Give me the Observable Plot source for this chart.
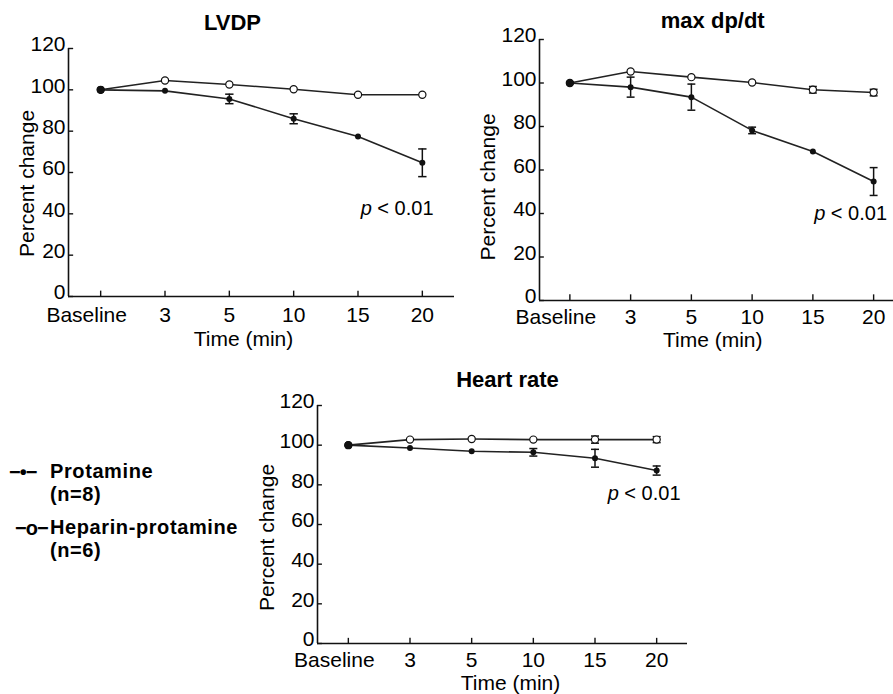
<!DOCTYPE html>
<html><head><meta charset="utf-8">
<script src="https://cdn.jsdelivr.net/npm/d3@7"></script>
<script src="https://cdn.jsdelivr.net/npm/@observablehq/plot@0.6"></script>
<style>
html,body{margin:0;padding:0;background:#fff}
body{width:893px;height:694px;overflow:hidden;position:relative;font-family:"Liberation Sans",Arial,sans-serif;color:#000}
.panel{position:absolute}
.panel svg{max-width:none;overflow:visible}
.leg{position:absolute;font-weight:bold;font-size:20px;letter-spacing:0.6px;white-space:nowrap;line-height:1}
</style></head><body>
<script>
// ---- data ----
const categories = ["Baseline", "3", "5", "10", "15", "20"];
const yTicks = [0, 20, 40, 60, 80, 100, 120];
const seriesNames = ["Protamine", "Heparin-protamine"];

const lvdpProtamine    = [100, 99.5, 95.6, 86.0, 77.4, 64.7];
const lvdpProtamineErr = [0, 0, 2.3, 2.4, 0, 6.7];
const lvdpHeparin      = [100, 104.5, 102.6, 100.3, 97.6, 97.6];
const lvdpHeparinErr   = [0, 0, 0, 0, 0, 0];

const dpdtProtamine    = [100, 98.1, 93.5, 78.2, 68.5, 54.7];
const dpdtProtamineErr = [0, 4.6, 6.0, 1.5, 0, 6.4];
const dpdtHeparin      = [100, 105.3, 102.7, 100.2, 96.9, 95.6];
const dpdtHeparinErr   = [0, 0, 0, 0, 1.5, 1.5];

const hrProtamine      = [100, 98.6, 96.9, 96.4, 93.4, 87.2];
const hrProtamineErr   = [0, 0, 0, 1.9, 4.5, 2.3];
const hrHeparin        = [100, 102.8, 103.1, 102.8, 102.8, 102.8];
const hrHeparinErr     = [0, 0, 0, 0, 1.8, 1.5];

const pLabel = "p < 0.01";

// ---- drawing ----
const FONT = '"Liberation Sans", Arial, sans-serif';
const idx = categories.map((_, i) => i);
const xDomain = [-0.5, categories.length - 0.5];

function rows(prot, protErr, hep, hepErr) {
  const out = [];
  prot.forEach((v, i) => out.push({series: seriesNames[0], i, v, e: protErr[i]}));
  hep.forEach((v, i) => out.push({series: seriesNames[1], i, v, e: hepErr[i]}));
  return out;
}

function panel(cfg) {
  const data = rows(cfg.prot, cfg.protErr, cfg.hep, cfg.hepErr);
  const errs = data.filter(d => d.e > 0);
  const prot = data.filter(d => d.series === seriesNames[0]);
  const hep = data.filter(d => d.series === seriesNames[1]);
  const capW = 0.065;
  const plot = Plot.plot({
    width: cfg.width, height: cfg.height,
    marginLeft: cfg.ml, marginRight: cfg.mr, marginTop: cfg.mt, marginBottom: cfg.mb,
    style: {fontFamily: FONT, fontSize: "21px", color: "#000", background: "transparent", overflow: "visible"},
    x: {domain: xDomain, axis: null},
    y: {domain: [0, 120], axis: null},
    marks: [
      // axes
      Plot.ruleX([xDomain[0]], {y1: 0, y2: 120, stroke: "#111", strokeWidth: 1.6}),
      Plot.ruleY([0], {stroke: "#111", strokeWidth: 1.6}),
      Plot.ruleY(yTicks, {x1: xDomain[0], x2: xDomain[0] + 0.08, stroke: "#111", strokeWidth: 1.4}),
      Plot.ruleX(idx, {y1: 0, y2: 2.6, stroke: "#111", strokeWidth: 1.4}),
      Plot.axisY({ticks: yTicks, tickSize: 0, tickPadding: 3, dy: -4, fontSize: 21, label: null}),
      Plot.axisX({ticks: idx.slice(0, 1), tickFormat: i => categories[i], tickSize: 0, tickPadding: cfg.xpad, dx: -14, fontSize: 21, label: null}),
      Plot.axisX({ticks: idx.slice(1), tickFormat: i => categories[i], tickSize: 0, tickPadding: cfg.xpad, fontSize: 21, label: null}),
      // error bars
      Plot.ruleX(errs, {x: "i", y1: d => d.v - d.e, y2: d => d.v + d.e, stroke: "#111", strokeWidth: 1.5}),
      Plot.link(errs, {x1: d => d.i - capW, x2: d => d.i + capW, y1: d => d.v + d.e, y2: d => d.v + d.e, stroke: "#111", strokeWidth: 1.5}),
      Plot.link(errs, {x1: d => d.i - capW, x2: d => d.i + capW, y1: d => d.v - d.e, y2: d => d.v - d.e, stroke: "#111", strokeWidth: 1.5}),
      // lines
      Plot.line(data, {x: "i", y: "v", z: "series", stroke: "#222", strokeWidth: 1.6}),
      Plot.dot(hep, {x: "i", y: "v", r: 3.6, fill: d => d.i === 0 ? "#000" : "#fff", stroke: "#111", strokeWidth: 1.2}),
      Plot.dot(prot, {x: "i", y: "v", r: d => d.i === 0 ? 3.6 : 2.2, fill: "#111", stroke: "none"}),
      // texts
      Plot.text([cfg.title], {frameAnchor: "top", dx: cfg.tdx, dy: cfg.tdy, fontSize: 22, fontWeight: "bold", lineAnchor: "middle"}),
      Plot.text(["Time (min)"], {frameAnchor: "bottom", dx: cfg.xldx, dy: cfg.xldy, fontSize: 21, lineAnchor: "middle"}),
      Plot.text(["Percent change"], {frameAnchor: "left", rotate: -90, textAnchor: "middle", dx: cfg.yldx, dy: cfg.yldy, fontSize: 21, lineAnchor: "middle"}),
      Plot.text([pLabel], {frameAnchor: "top-right", dx: cfg.pdx, dy: cfg.pdy, textAnchor: "end", fontSize: 20, lineAnchor: "middle"})
    ]
  });
  // italic "p"
  d3.select(plot).selectAll("text").filter(function() { return this.textContent === pLabel; }).each(function() {
    const t = d3.select(this);
    t.text(null);
    t.append("tspan").attr("font-style", "italic").text(pLabel.slice(0, 1));
    t.append("tspan").text(pLabel.slice(1));
  });
  const div = document.createElement("div");
  div.className = "panel";
  div.style.left = cfg.left + "px";
  div.style.top = cfg.top + "px";
  div.appendChild(plot);
  document.body.appendChild(div);
}

panel({title: "LVDP", prot: lvdpProtamine, protErr: lvdpProtamineErr, hep: lvdpHeparin, hepErr: lvdpHeparinErr,
  left: 0, top: 0, width: 460, height: 345, ml: 68, mr: 6, mt: 48, mb: 49, xpad: 11,
  tdx: -29, tdy: -26, xldx: -18, xldy: 43, yldx: -41, yldy: 11, pdx: -21, pdy: 160});

panel({title: "max dp/dt", prot: dpdtProtamine, protErr: dpdtProtamineErr, hep: dpdtHeparin, hepErr: dpdtHeparinErr,
  left: 460, top: 0, width: 460, height: 345, ml: 79, mr: 16.5, mt: 39, mb: 45, xpad: 9,
  tdx: -9, tdy: -19, xldx: -9, xldy: 40, yldx: -51, yldy: 17, pdx: -17, pdy: 174});

panel({title: "Heart rate", prot: hrProtamine, protErr: hrProtamineErr, hep: hrHeparin, hepErr: hrHeparinErr,
  left: 250, top: 350, width: 460, height: 344, ml: 67, mr: 23, mt: 55, mb: 51, xpad: 9,
  tdx: 5, tdy: -26, xldx: 8, xldy: 40, yldx: -50, yldy: 13, pdx: -7, pdy: 88});

// legend
const legendItems = [
  {sym: "−•−", label: seriesNames[0], n: "(n=8)", symLeft: 9, top: 462},
  {sym: "−o−", label: seriesNames[1], n: "(n=6)", symLeft: 15, top: 518}
];
legendItems.forEach(it => {
  const a = document.createElement("div");
  a.className = "leg";
  a.style.left = it.symLeft + "px"; a.style.top = it.top + "px";
  a.textContent = it.sym;
  a.style.letterSpacing = "-1px";
  document.body.appendChild(a);
  const b = document.createElement("div");
  b.className = "leg";
  b.style.left = "50px"; b.style.top = (it.top - 1) + "px";
  b.textContent = it.label;
  document.body.appendChild(b);
  const c = document.createElement("div");
  c.className = "leg";
  c.style.left = "50px"; c.style.top = (it.top + 22) + "px";
  c.textContent = it.n;
  document.body.appendChild(c);
});
</script>
</body></html>
